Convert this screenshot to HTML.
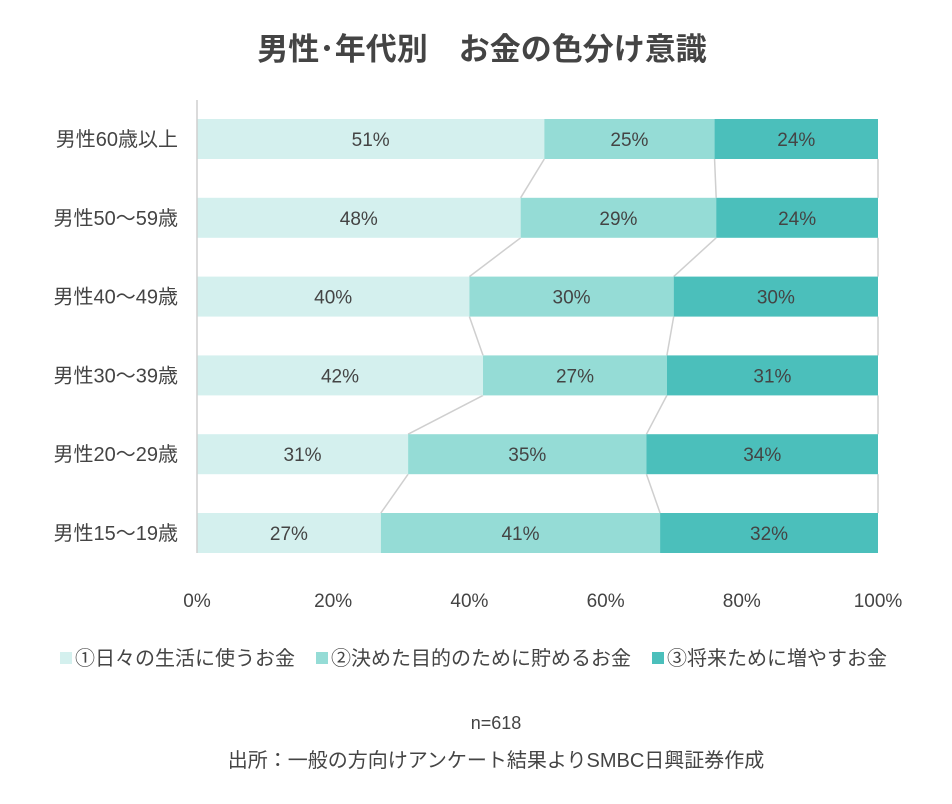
<!DOCTYPE html>
<html><head><meta charset="utf-8">
<style>
body{margin:0;background:#fff;width:952px;height:799px;overflow:hidden;font-family:"Liberation Sans","Noto Sans CJK JP",sans-serif;}
svg text{font-family:"Liberation Sans","Noto Sans CJK JP",sans-serif;}
</style></head>
<body>
<svg id="chart" width="952" height="799">
<text x="482" y="60" text-anchor="middle" font-size="31" font-weight="bold" fill="#444">男性･年代別　お金の色分け意識</text>
<g id="conn"></g><g id="bars"></g><g id="ylab"></g><g id="xlab"></g>
<line x1="197" y1="100" x2="197" y2="553" stroke="#cfcfcf" stroke-width="1.5"/>
<g>
<rect x="60" y="652" width="12" height="12" fill="#d4f0ee"/>
<text x="75" y="665" font-size="20" fill="#444">①日々の生活に使うお金</text>
<rect x="316" y="652" width="12" height="12" fill="#95dcd6"/>
<text x="331" y="665" font-size="20" fill="#444">②決めた目的のために貯めるお金</text>
<rect x="652" y="652" width="12" height="12" fill="#4bbfbb"/>
<text x="667" y="665" font-size="20" fill="#444">③将来ために増やすお金</text>
</g>
<text x="496" y="729" text-anchor="middle" font-size="18" fill="#444">n=618</text>
<text x="496" y="767" text-anchor="middle" font-size="20" fill="#444">出所：一般の方向けアンケート結果よりSMBC日興証券作成</text>
</svg>
<script>
const categories=["男性60歳以上","男性50～59歳","男性40～49歳","男性30～39歳","男性20～29歳","男性15～19歳"];
const daily=[51,48,40,42,31,27];
const purpose=[25,29,30,27,35,41];
const future=[24,24,30,31,34,32];
const ticks=[0,20,40,60,80,100];
const colors=["#d4f0ee","#95dcd6","#4bbfbb"];
const NS="http://www.w3.org/2000/svg";
const x0=197,x1=878,yTop=119,step=78.8,bh=40;
const X=p=>x0+(x1-x0)*p/100;
const Y=i=>yTop+i*step;
function mk(t,a,parent){const e=document.createElementNS(NS,t);for(const k in a)e.setAttribute(k,a[k]);document.getElementById(parent).appendChild(e);return e;}
const series=[daily,purpose,future];
const bounds=[];
categories.forEach((c,i)=>{
  const vals=series.map(s=>s[i]);const sum=vals.reduce((a,b)=>a+b,0);
  let cum=0;const b=[];
  vals.forEach((v,j)=>{
    const s=cum/sum*100;cum+=v;const e=cum/sum*100;b.push(e);
    const r=mk('rect',{x:X(s),y:Y(i),width:X(e)-X(s),height:bh,fill:colors[j]},'bars');
    
    
    const t=mk('text',{x:(X(s)+X(e))/2,y:Y(i)+bh/2+7,'text-anchor':'middle','font-size':19,fill:'#444'},'bars');
    t.textContent=v+'%';
    
    
  });
  bounds.push(b);
  const l=mk('text',{x:178,y:Y(i)+bh/2+7,'text-anchor':'end','font-size':20,fill:'#444'},'ylab');
  l.textContent=c;
  
  
});
for(let i=0;i<categories.length-1;i++){
  for(let j=0;j<3;j++){
    const ln=mk('line',{x1:X(bounds[i][j]),y1:Y(i)+bh,x2:X(bounds[i+1][j]),y2:Y(i+1),stroke:'#cfcfcf','stroke-width':1.5},'conn');
    
    
  }
}
ticks.forEach(t=>{
  const e=mk('text',{x:X(t),y:607,'text-anchor':'middle','font-size':19,fill:'#444'},'xlab');
  e.textContent=t+'%';
  
  
});
</script>
</body></html>
